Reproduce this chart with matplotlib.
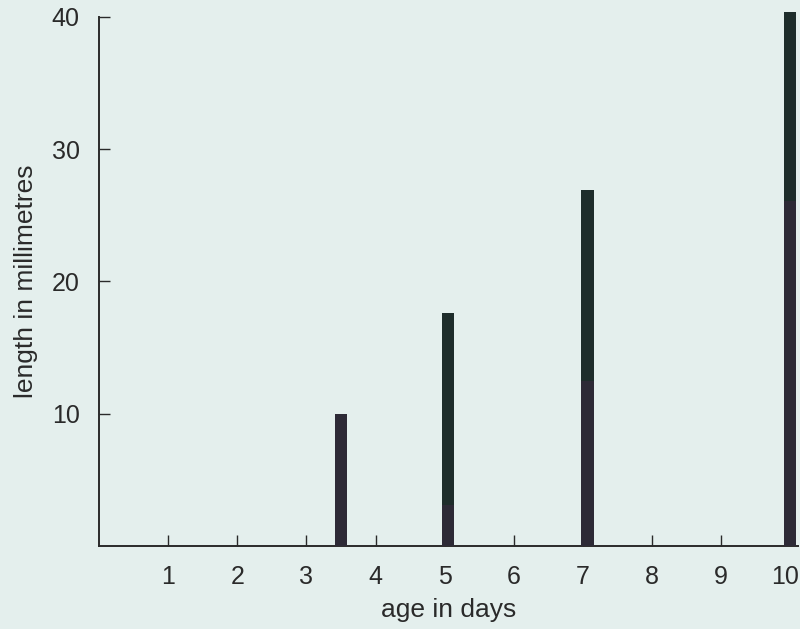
import matplotlib
matplotlib.use("Agg")
import matplotlib.pyplot as plt
from matplotlib.transforms import ScaledTranslation

# age (days) and lengths (mm): lower segment and total length of each bar
ages = [3.5, 5.05, 7.07, 10.0]
lower = [10.0, 3.1, 12.5, 26.1]
total = [10.0, 17.6, 26.9, 40.4]

x_ticks = [1, 2, 3, 4, 5, 6, 7, 8, 9, 10]
y_ticks = [10, 20, 30, 40]

bg = "#e4efed"
lower_color = "#2d2a36"
upper_color = "#1e2d2b"
ink = "#2a2a2a"

plt.rcParams["font.family"] = ["Liberation Sans Narrow", "Liberation Sans", "DejaVu Sans"]

fig = plt.figure(figsize=(8, 6.29), dpi=100, facecolor=bg)
ax = fig.add_axes([0.124, 0.132, 0.874, 0.841], facecolor=bg)

upper = [t - l for t, l in zip(total, lower)]
ax.bar(ages, lower, width=0.18, color=lower_color, clip_on=False, zorder=3)
ax.bar(ages, upper, bottom=lower, width=0.18, color=upper_color, clip_on=False, zorder=3)

ax.set_xlim(0, 10.12)
ax.set_ylim(0, 40)
ax.set_xticks(x_ticks)
ax.set_xticklabels([str(v) for v in x_ticks])
ax.set_yticks(y_ticks)
ax.set_yticklabels([str(v) for v in y_ticks])

for s in ["top", "right"]:
    ax.spines[s].set_visible(False)
for s in ["left", "bottom"]:
    ax.spines[s].set_color(ink)
    ax.spines[s].set_linewidth(1.4)

ax.tick_params(axis="both", direction="in", length=8, width=1, color=ink,
               labelsize=18, labelcolor=ink)
ax.tick_params(axis="x", pad=14)
ax.tick_params(axis="y", pad=14)

# nudge the last x label inward so it stays inside the figure edge
last = ax.get_xticklabels()[-1]
last.set_transform(last.get_transform() + ScaledTranslation(-5 / 100, 0, fig.dpi_scale_trans))

ax.set_xlabel("age in days", fontsize=19, color=ink, labelpad=6)
ax.set_ylabel("length in millimetres", fontsize=19, color=ink, labelpad=10)

fig.savefig("out.png", dpi=100, facecolor=bg)
